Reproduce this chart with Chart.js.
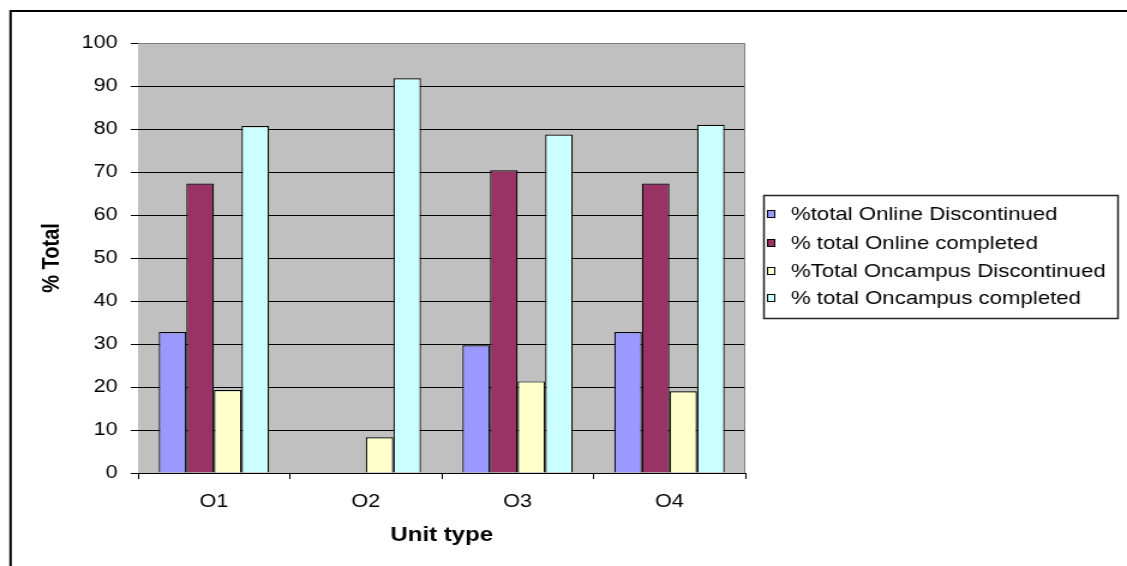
<!DOCTYPE html>
<html>
<head>
<meta charset="utf-8">
<script src="https://cdn.jsdelivr.net/npm/chart.js@4/dist/chart.umd.min.js"></script>
<style>
  html, body { margin: 0; padding: 0; background: #fff; overflow: hidden; }
  canvas { display: block; }
</style>
</head>
<body>
<!-- the original chart is stretched sideways, so the canvas is drawn narrower and widened by css -->
<canvas id="myChart" width="939" height="566" style="width:1127px;height:566px"></canvas>
<script>
// data
let categories = ['O1', 'O2', 'O3', 'O4'];
let onlineDiscontinued = [32.8, 0, 29.7, 32.8];
let onlineCompleted = [67.3, 0, 70.4, 67.3];
let oncampusDiscontinued = [19.3, 8.3, 21.3, 19.0];
let oncampusCompleted = [80.7, 91.8, 78.7, 81.0];
let seriesNames = ['%total Online Discontinued', '% total Online completed', '%Total Oncampus Discontinued', '% total Oncampus completed'];
let seriesColors = ['#9999FF', '#993366', '#FFFFCC', '#CCFFFF'];
let yTicks = [0, 10, 20, 30, 40, 50, 60, 70, 80, 90, 100];

const FONT = 'Liberation Sans, Arial, sans-serif';
const W = 939;

// grey plot area, frame, and the legend box on the right
let frame = {
    id: 'frame',
    beforeDatasetsDraw(chart) {
        let ctx = chart.ctx;
        let a = chart.chartArea;
        ctx.save();
        ctx.fillStyle = '#C0C0C0';
        ctx.fillRect(a.left, a.top, a.right - a.left, a.bottom - a.top);
        let y = chart.scales.y;
        ctx.strokeStyle = '#000';
        ctx.lineWidth = 1;
        yTicks.forEach(function(t) {
            if (t == 0 || t == 100) return;
            let py = Math.round(y.getPixelForValue(t)) + 0.5;
            ctx.beginPath();
            ctx.moveTo(a.left, py);
            ctx.lineTo(a.right, py);
            ctx.stroke();
        });
        ctx.restore();
    },
    afterDraw(chart) {
        let ctx = chart.ctx;
        let a = chart.chartArea;
        ctx.save();
        // plot border top + right
        ctx.strokeStyle = '#808080';
        ctx.lineWidth = 1;
        ctx.beginPath();
        ctx.moveTo(a.left, a.top + 0.5);
        ctx.lineTo(a.right - 0.5, a.top + 0.5);
        ctx.lineTo(a.right - 0.5, a.bottom);
        ctx.stroke();

        // outer chart border (cut off at right and bottom)
        ctx.strokeStyle = '#000';
        ctx.lineWidth = 2;
        ctx.beginPath();
        ctx.moveTo(8.8, 566);
        ctx.lineTo(8.8, 11);
        ctx.lineTo(W, 11);
        ctx.stroke();

        // legend
        let lx = 636, ly = 195, lw = 295, lh = 123;
        ctx.fillStyle = '#fff';
        ctx.fillRect(lx, ly, lw, lh);
        ctx.strokeStyle = '#222';
        ctx.lineWidth = 1.5;
        ctx.strokeRect(lx + 0.5, ly + 0.5, lw, lh);
        ctx.font = '18.5px ' + FONT;
        ctx.textBaseline = 'middle';
        let rows = [214, 243, 271, 298];
        chart.data.datasets.forEach(function(ds, i) {
            ctx.fillStyle = ds.backgroundColor;
            ctx.fillRect(639, rows[i] - 4, 7, 8);
            ctx.strokeStyle = '#000';
            ctx.lineWidth = 1;
            ctx.strokeRect(639.5, rows[i] - 3.5, 6, 7);
            ctx.fillStyle = '#000';
            ctx.fillText(ds.label, 659, rows[i] + 1);
        });
        ctx.restore();
    }
};

let datasets = [onlineDiscontinued, onlineCompleted, oncampusDiscontinued, oncampusCompleted].map(function(vals, i) {
    return {
        label: seriesNames[i],
        data: vals,
        backgroundColor: seriesColors[i],
        borderColor: '#000',
        borderWidth: 1.2,
        borderSkipped: 'bottom',
        categoryPercentage: 0.727,
        barPercentage: 1.0
    };
});

let ctx = document.getElementById('myChart').getContext('2d');
let myChart = new Chart(ctx, {
    type: 'bar',
    data: {
        labels: categories,
        datasets: datasets
    },
    options: {
        responsive: false,
        animation: false,
        devicePixelRatio: 1,
        layout: { padding: { left: 0, top: 43, right: 318, bottom: 0 } },
        plugins: {
            legend: { display: false },
            tooltip: { enabled: false }
        },
        scales: {
            x: {
                afterFit: function(s) { s.height = 93; },
                grid: {
                    drawOnChartArea: false,
                    drawTicks: true,
                    tickLength: 6,
                    color: '#000',
                    offset: true
                },
                border: { color: '#000', width: 1 },
                ticks: {
                    color: '#000',
                    font: { family: FONT, size: 18 },
                    padding: 12
                },
                title: {
                    display: true,
                    text: 'Unit type',
                    color: '#000',
                    font: { family: FONT, size: 20, weight: 'bold' },
                    padding: { top: 0, bottom: 19 }
                }
            },
            y: {
                min: 0,
                max: 100,
                afterFit: function(s) { s.width = 115; },
                afterBuildTicks: function(s) {
                    s.ticks = yTicks.map(function(v) { return { value: v }; });
                },
                grid: {
                    drawOnChartArea: false,
                    drawTicks: true,
                    tickLength: 6,
                    color: '#000'
                },
                border: { color: '#000', width: 1 },
                ticks: {
                    color: '#000',
                    font: { family: FONT, size: 18 },
                    padding: 11
                },
                title: {
                    display: true,
                    text: '% Total',
                    color: '#000',
                    font: { family: FONT, size: 20, weight: 'bold' },
                    padding: { top: 31, bottom: 0 }
                }
            }
        }
    },
    plugins: [frame]
});
</script>
</body>
</html>
